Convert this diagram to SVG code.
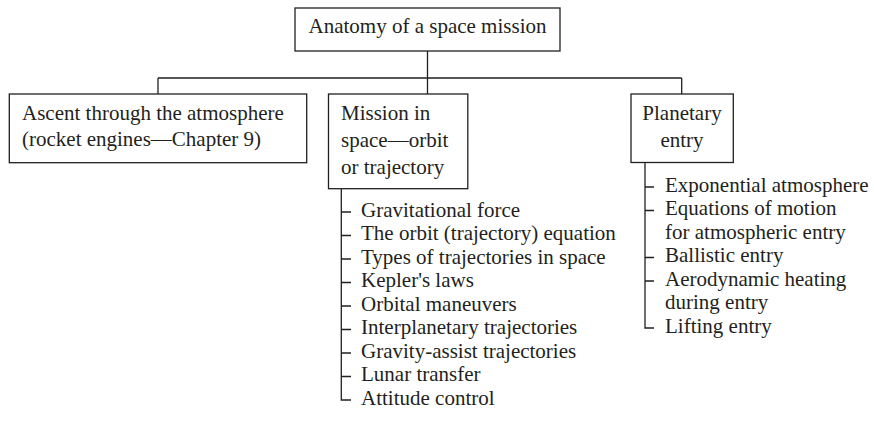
<svg xmlns="http://www.w3.org/2000/svg" width="874" height="436" viewBox="0 0 874 436">
<style>
.box{fill:#fff;stroke:#231f20;stroke-width:1.3}
.ln{fill:none;stroke:#231f20;stroke-width:1.3}
text{font-family:"Liberation Serif","Times New Roman",serif;font-size:21px;fill:#231f20}
.c{text-anchor:middle}
</style>
<rect width="874" height="436" fill="#fff"/>
<g id="connectors">
<path class="ln" d="M427.5 51V78M158 78H681.7M158 78V94M427.5 78V94M681.7 78V94"/>
<path class="ln" d="M341.3 189V400H351M341.3 212H351M341.3 235.5H351M341.3 259H351M341.3 282.5H351M341.3 306H351M341.3 329.5H351M341.3 353H351M341.3 376.5H351"/>
<path class="ln" d="M645 162.7V328H654M645 187H654M645 210.5H654M645 257.5H654M645 281H654"/>
</g>
<g id="root">
<rect class="box" x="295" y="8" width="265" height="43"/>
<text class="c" x="427.5" y="33.3">Anatomy of a space mission</text>
</g>
<g id="ascent">
<rect class="box" x="9.3" y="94" width="297.4" height="68.7"/>
<text x="22" y="120">Ascent through the atmosphere</text>
<text x="22" y="146">(rocket engines—Chapter 9)</text>
</g>
<g id="mission">
<rect class="box" x="328.5" y="94" width="139.3" height="94.7"/>
<text x="341" y="120">Mission in</text>
<text x="341" y="147">space—orbit</text>
<text x="341" y="174">or trajectory</text>
</g>
<g id="entry">
<rect class="box" x="631" y="94" width="102.3" height="68.5"/>
<text class="c" x="682" y="120">Planetary</text>
<text class="c" x="682" y="147">entry</text>
</g>
<g id="mission-topics">
<text x="361" y="216.8">Gravitational force</text>
<text x="361" y="240.3">The orbit (trajectory) equation</text>
<text x="361" y="263.8">Types of trajectories in space</text>
<text x="361" y="287.3">Kepler's laws</text>
<text x="361" y="310.8">Orbital maneuvers</text>
<text x="361" y="334.3">Interplanetary trajectories</text>
<text x="361" y="357.8">Gravity-assist trajectories</text>
<text x="361" y="381.3">Lunar transfer</text>
<text x="361" y="404.8">Attitude control</text>
</g>
<g id="entry-topics">
<text x="665" y="191.8">Exponential atmosphere</text>
<text x="665" y="215.3">Equations of motion</text>
<text x="665" y="238.8">for atmospheric entry</text>
<text x="665" y="262.3">Ballistic entry</text>
<text x="665" y="285.8">Aerodynamic heating</text>
<text x="665" y="309.3">during entry</text>
<text x="665" y="332.8">Lifting entry</text>
</g>
</svg>
